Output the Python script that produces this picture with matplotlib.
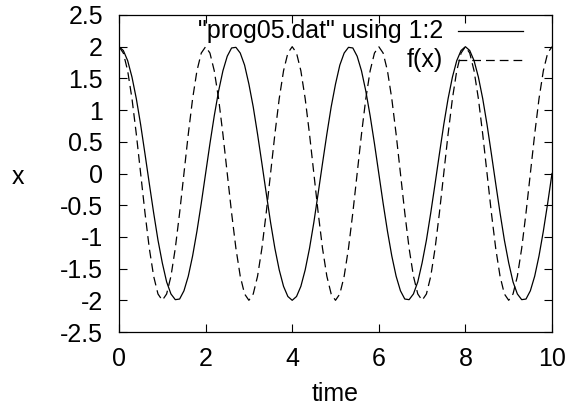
import numpy as np
from matplotlib import pyplot as plt

plt.rcParams["font.family"] = ["Liberation Sans", "DejaVu Sans"]
plt.rcParams["axes.unicode_minus"] = False

time = np.round(np.arange(101) * 0.1, 1)

x_data = [2.0, 1.94, 1.78, 1.52, 1.18, 0.77, 0.31, -0.16, -0.62, -1.05,
          -1.41, -1.71, -1.90, -1.99, -1.98, -1.85, -1.62, -1.30, -0.91, -0.47,
          0.0, 0.47, 0.91, 1.30, 1.62, 1.85, 1.98, 1.99, 1.90, 1.71,
          1.41, 1.05, 0.62, 0.16, -0.31, -0.77, -1.18, -1.52, -1.78, -1.94,
          -2.0, -1.94, -1.78, -1.52, -1.18, -0.77, -0.31, 0.16, 0.62, 1.05,
          1.41, 1.71, 1.90, 1.99, 1.98, 1.85, 1.62, 1.30, 0.91, 0.47,
          0.0, -0.47, -0.91, -1.30, -1.62, -1.85, -1.98, -1.99, -1.90, -1.71,
          -1.41, -1.05, -0.62, -0.16, 0.31, 0.77, 1.18, 1.52, 1.78, 1.94,
          2.0, 1.94, 1.78, 1.52, 1.18, 0.77, 0.31, -0.16, -0.62, -1.05,
          -1.41, -1.71, -1.90, -1.99, -1.98, -1.85, -1.62, -1.30, -0.91, -0.47,
          0.0]

f_period = [2.0, 1.90, 1.62, 1.18, 0.62, 0.0, -0.62, -1.18, -1.62, -1.90,
            -2.0, -1.90, -1.62, -1.18, -0.62, 0.0, 0.62, 1.18, 1.62, 1.90]
fx = f_period * 5 + [2.0]

labels = ['"prog05.dat" using 1:2', 'f(x)']
xticks = [0, 2, 4, 6, 8, 10]
yticks = [-2.5, -2, -1.5, -1, -0.5, 0, 0.5, 1, 1.5, 2, 2.5]
ytick_labels = ["-2.5", "-2", "-1.5", "-1", "-0.5", "0", "0.5", "1", "1.5", "2", "2.5"]

fs = 18
styles = [dict(color="black", lw=0.9),
          dict(color="black", lw=0.9, dashes=(7, 4))]

fig = plt.figure(figsize=(5.66, 4.07), dpi=100)
ax = fig.add_axes([119/566, 1-332/407, 433/566, 317/407])

ax.plot(time, x_data, **styles[0])
ax.plot(time, fx, **styles[1])

ax.set_xlim(0, 10)
ax.set_ylim(-2.5, 2.5)
ax.set_xticks(xticks)
ax.set_xticklabels([str(t) for t in xticks])
ax.set_yticks(yticks)
ax.set_yticklabels(ytick_labels)
ax.tick_params(direction="in", top=True, right=True, length=6, width=0.8,
               labelsize=fs)
ax.tick_params(axis="y", pad=11.5)
ax.tick_params(axis="x", pad=11)
for s in ax.spines.values():
    s.set_linewidth(0.9)

ax.set_xlabel("time", fontsize=fs, va="baseline")
ax.xaxis.set_label_coords(0.5, (332 - 401) / 317)
ax.set_ylabel("x", fontsize=fs, rotation=0, ha="center", va="center")
ax.yaxis.set_label_coords((17.5 - 119) / 433, 0.49)

# gnuplot-style key: right-aligned text, sample line to its right
for i, lab in enumerate(labels):
    yk = 0.948 - i * 0.091
    ax.text(0.748, yk, lab, transform=ax.transAxes, ha="right", va="center",
            fontsize=fs)
    ax.plot([0.783, 0.933], [yk, yk], transform=ax.transAxes, **styles[i])

plt.savefig("out.png", dpi=100)
